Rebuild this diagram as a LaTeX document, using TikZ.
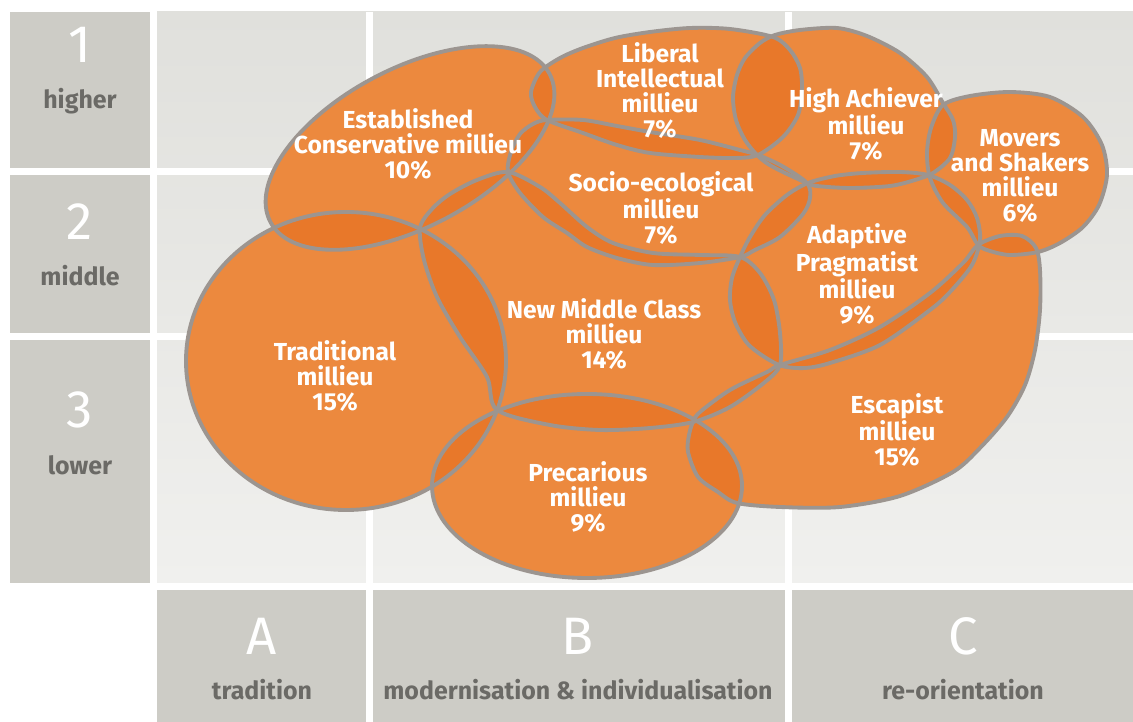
\documentclass[tikz,border=0pt]{standalone}
\usepackage{fontspec}
\setmainfont{Fira Sans}
\definecolor{orangeA}{HTML}{EC893E}
\definecolor{orangeB}{HTML}{E8782A}
\definecolor{rimgrey}{HTML}{9C9590}
\definecolor{boxgrey}{HTML}{CDCCC6}
\definecolor{labgrey}{HTML}{6B6A66}
\definecolor{celltop}{HTML}{E0E0DC}
\definecolor{cellbot}{HTML}{F0F0EE}

\newcommand\shEst[1]{\path[#1,rotate around={28:(410,148)}] (410,148) ellipse (158 and 79);}
\newcommand\shTra[1]{\path[#1] (346,361) ellipse (160 and 149);}
\newcommand\shPre[1]{\path[#1] (587,486) ellipse (155 and 92);}
\newcommand\shLib[1]{\path[#1] plot[smooth cycle,tension=0.5] coordinates {(531,92) (540,72) (560,58) (583,48) (615,38) (650,32) (690,28) (730,29) (773,37) (790,50) (800,68) (802,90) (798,115) (783,137) (758,155) (735,158) (700,157) (650,153) (617,145) (583,133) (547,120) (535,107)};}
\newcommand\shHig[1]{\path[#1] plot[smooth cycle,tension=0.5] coordinates {(757,155) (745,140) (736,120) (733,97) (737,75) (745,58) (760,43) (775,35) (800,30) (837,28) (867,36) (900,53) (927,77) (943,103) (953,120) (955,137) (950,158) (933,173) (915,180) (890,186) (850,188) (817,186) (807,183) (785,173) (768,164)};}
\newcommand\shMov[1]{\path[#1] plot[smooth cycle,tension=0.5] coordinates {(943,105) (970,96) (1010,92) (1050,97) (1083,117) (1102,145) (1107,175) (1099,205) (1083,227) (1060,243) (1038,252) (1010,255) (990,251) (978,245) (967,227) (943,203) (930,178) (927,153) (931,128)};}
\newcommand\shSoc[1]{\path[#1] plot[smooth cycle,tension=0.5] coordinates {(508,172) (511,152) (520,134) (533,124) (547,120) (583,120) (617,126) (650,132) (700,140) (740,150) (758,155) (782,166) (807,183) (810,198) (803,214) (780,237) (755,250) (740,257) (700,263) (653,265) (617,258) (587,247) (567,233) (543,217) (520,193)};}
\newcommand\shNmc[1]{\path[#1] plot[smooth cycle,tension=0.5] coordinates {(420,228) (432,209) (450,194) (477,180) (508,172) (540,187) (560,203) (587,227) (613,243) (653,253) (700,255) (740,257) (760,273) (774,300) (780,333) (780,365) (765,382) (730,407) (693,422) (650,428) (600,430) (550,425) (497,410) (487,377) (460,337) (437,297) (424,260)};}
\newcommand\shAda[1]{\path[#1] plot[smooth cycle,tension=0.5] coordinates {(808,183) (835,176) (863,173) (900,172) (928,175) (950,185) (967,200) (977,218) (980,240) (972,265) (950,292) (930,310) (880,345) (830,363) (805,368) (782,366) (763,356) (747,343) (735,322) (730,300) (732,278) (740,257) (750,237) (765,215) (787,195)};}
\newcommand\shEsc[1]{\path[#1] plot[smooth cycle,tension=0.5] coordinates {(693,422) (700,412) (730,390) (767,372) (780,365) (830,350) (880,327) (930,293) (963,263) (978,245) (1000,236) (1022,236) (1036,248) (1040,270) (1040,310) (1035,350) (1025,385) (1007,417) (980,448) (953,472) (900,496) (840,507) (780,507) (737,503) (718,492) (698,477) (688,452) (689,435)};}

\tikzset{
  mil/.style={text=white,font=\bfseries\fontsize{14}{14.2}\selectfont,align=center,inner sep=0pt},
  bignum/.style={text=white,font=\fontsize{30}{32}\selectfont,inner sep=0pt},
  lab/.style={text=labgrey,font=\bfseries\fontsize{14.2}{15}\selectfont,inner sep=0pt},
  greybox/.style={fill=boxgrey}
}

\begin{document}
\begin{tikzpicture}[x=0.02cm,y=-0.02cm]
\useasboundingbox (0,0) rectangle (1133,722);
\fill[white] (0,0) rectangle (1133,722);
% grid cells
\shade[top color=celltop,bottom color=cellbot] (157,12) rectangle (1133,583);
\fill[white] (157,168) rectangle (1133,175);
\fill[white] (157,333) rectangle (1133,340);
\fill[white] (366,12) rectangle (373,583);
\fill[white] (785,12) rectangle (792,583);
% row label boxes
\fill[greybox] (10,12) rectangle (150,168);
\fill[greybox] (10,175) rectangle (150,333);
\fill[greybox] (10,340) rectangle (150,583);
% column label boxes
\fill[greybox] (157,590) rectangle (366,722);
\fill[greybox] (373,590) rectangle (785,722);
\fill[greybox] (792,590) rectangle (1133,722);

% milieu fills
\foreach \i in {Est,Tra,Pre,Lib,Hig,Mov,Soc,Nmc,Ada,Esc}{\csname sh\i\endcsname{fill=orangeA}}
% overlaps
\foreach \i in {Est,Tra,Pre,Lib,Hig,Mov,Soc,Nmc,Ada,Esc}{
  \begin{scope}
    \csname sh\i\endcsname{clip}
    \foreach \j in {Est,Tra,Pre,Lib,Hig,Mov,Soc,Nmc,Ada,Esc}{
      \ifx\i\j\else\csname sh\j\endcsname{fill=orangeB}\fi
    }
  \end{scope}
}
% outlines
\foreach \i in {Est,Tra,Pre,Lib,Hig,Mov,Soc,Nmc,Ada,Esc}{\csname sh\i\endcsname{draw=rimgrey,line width=2.2pt}}

% milieu labels
\node[mil] (tEst) at (408,144) {Established\\Conservative millieu\\10\%};
\node[mil] (tLib) at (660,90.5) {Liberal\\Intellectual\\millieu\\7\%};
\node[mil] (tHig) at (866,124) {High Achiever\\millieu\\7\%};
\node[mil] (tMov) at (1020,176) {Movers\\and Shakers\\millieu\\6\%};
\node[mil] (tSoc) at (661,208) {Socio-ecological\\millieu\\7\%};
\node[mil] (tAda) at (857,274) {Adaptive\\Pragmatist\\millieu\\9\%};
\node[mil] (tNmc) at (604,334) {New Middle Class\\millieu\\14\%};
\node[mil] (tTra) at (335,376) {Traditional\\millieu\\15\%};
\node[mil] (tEsc) at (897,430) {Escapist\\millieu\\15\%};
\node[mil] (tPre) at (588,497) {Precarious\\millieu\\9\%};

% axis labels
\node[bignum] (n1) at (80,45) {1};
\node[lab] (l1) at (80,101) {higher};
\node[bignum] (n2) at (80,222) {2};
\node[lab] (l2) at (80,276) {middle};
\node[bignum] (n3) at (80,410) {3};
\node[lab] (l3) at (80,465) {lower};
\node[bignum] (nA) at (262,636) {A};
\node[lab] (lA) at (262,690) {tradition};
\node[bignum] (nB) at (578,636) {B};
\node[lab] (lB) at (578,690) {modernisation \& individualisation};
\node[bignum] (nC) at (963,636) {C};
\node[lab] (lC) at (963,690) {re-orientation};
\end{tikzpicture}
\end{document}
